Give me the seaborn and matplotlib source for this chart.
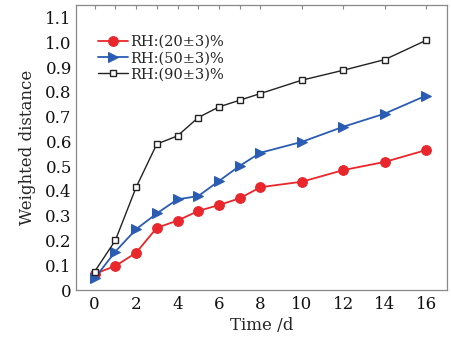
import matplotlib
matplotlib.use('Agg')
import matplotlib.pyplot as plt
import numpy as np
import pandas as pd
import seaborn as sns

days = [0, 1, 2, 3, 4, 5, 6, 7, 8, 10, 12, 14, 16]
rh20 = [0.065, 0.097, 0.150, 0.251, 0.280, 0.319, 0.343, 0.370, 0.415, 0.437, 0.484, 0.517, 0.565]
rh50 = [0.047, 0.155, 0.245, 0.309, 0.366, 0.379, 0.440, 0.501, 0.554, 0.598, 0.659, 0.712, 0.785]
rh90 = [0.074, 0.200, 0.414, 0.589, 0.622, 0.696, 0.739, 0.766, 0.793, 0.847, 0.887, 0.930, 1.008]
labels = ['RH:(20\u00b13)%', 'RH:(50\u00b13)%', 'RH:(90\u00b13)%']

sns.set_style('white')
plt.rcParams['font.family'] = ['DejaVu Serif']

fig = plt.figure(figsize=(4.52, 3.38), dpi=100)
ax = fig.add_axes([0.168, 0.142, 0.821, 0.843])

df = pd.DataFrame({'day': days, 'rh20': rh20, 'rh50': rh50, 'rh90': rh90})

sns.lineplot(data=df, x='day', y='rh20', ax=ax, color='#e8262b', linewidth=1.3,
             marker='o', markersize=7, markeredgecolor='#e8262b', label=labels[0])
sns.lineplot(data=df, x='day', y='rh50', ax=ax, color='#2b5cb4', linewidth=1.3,
             marker='>', markersize=7, markeredgecolor='#2b5cb4', label=labels[1])
sns.lineplot(data=df, x='day', y='rh90', ax=ax, color='#222222', linewidth=1.0,
             marker='s', markersize=5, markerfacecolor='white',
             markeredgecolor='#222222', markeredgewidth=1.0, label=labels[2])

ax.set_xlim(-0.9, 17.0)
ax.set_ylim(0, 1.15)
ax.set_xticks(days)
ax.set_xticklabels([str(d) if d % 2 == 0 else '' for d in days])
yt = np.round(np.arange(0, 1.11, 0.1), 1)
ax.set_yticks(yt)
ax.set_yticklabels(['0'] + [f'{v:.1f}' for v in yt[1:]])
ax.tick_params(axis='both', direction='in', length=3, width=0.8, color='#888888',
               labelsize=12, labelcolor='#111111')
ax.tick_params(axis='x', top=True, pad=4)
ax.tick_params(axis='y', pad=3)
for s in ax.spines.values():
    s.set_color('#888888')
    s.set_linewidth(0.9)

ax.set_xlabel('Time /d', fontsize=12, labelpad=3)
ax.set_ylabel('Weighted distance', fontsize=12, labelpad=7)

ax.legend(loc='upper left', bbox_to_anchor=(0.045, 0.915), frameon=False, fontsize=10.5,
          handlelength=2.0, handletextpad=0.2, labelspacing=0.15, borderaxespad=0)

fig.savefig('out.png', dpi=100)
